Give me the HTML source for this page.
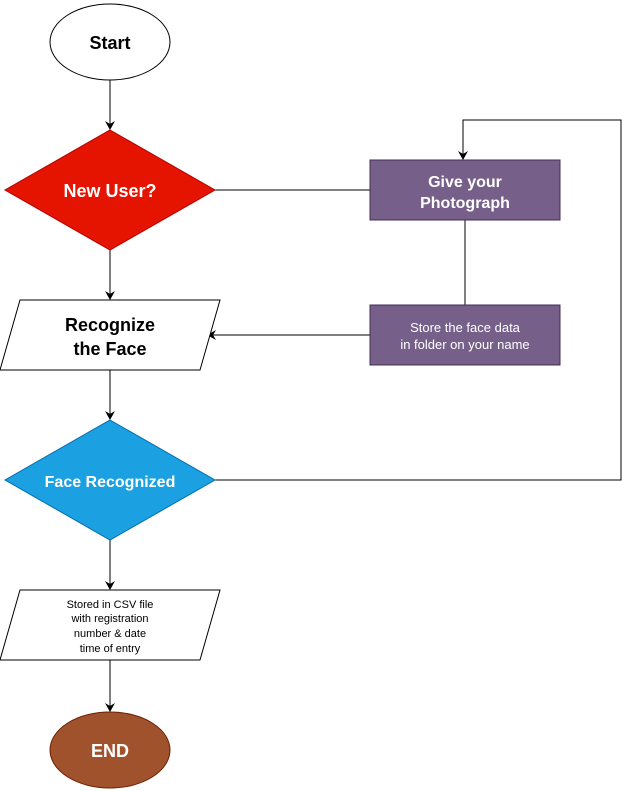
<!DOCTYPE html>
<html><head><meta charset="utf-8"><style>
html,body{margin:0;padding:0;background:#fff;}
svg{display:block;font-family:"Liberation Sans",Arial,sans-serif;}
</style></head><body>
<svg width="622" height="791" viewBox="0 0 622 791" xmlns="http://www.w3.org/2000/svg">
<defs>
<marker id="a" markerWidth="10" markerHeight="10" refX="8" refY="5" orient="auto" markerUnits="userSpaceOnUse">
<path d="M0,0 L9,5 L0,10 L3,5 Z" fill="#000"/>
</marker>
</defs>
<g stroke="#000" stroke-width="1" fill="none">
<line x1="110" y1="80" x2="110" y2="129" marker-end="url(#a)"/>
<line x1="110" y1="250" x2="110" y2="299" marker-end="url(#a)"/>
<line x1="110" y1="370" x2="110" y2="419" marker-end="url(#a)"/>
<line x1="110" y1="540" x2="110" y2="589" marker-end="url(#a)"/>
<line x1="110" y1="660" x2="110" y2="711" marker-end="url(#a)"/>
<line x1="215" y1="190" x2="370" y2="190"/>
<line x1="465" y1="220" x2="465" y2="305"/>
<line x1="370" y1="335" x2="208" y2="335" marker-end="url(#a)"/>
<polyline points="215,480 621,480 621,120 463,120 463,159" marker-end="url(#a)"/>
</g>
<ellipse cx="110" cy="42" rx="60" ry="38" fill="#fff" stroke="#000"/>
<text x="110" y="49" text-anchor="middle" font-size="18" font-weight="bold">Start</text>
<polygon points="110,130 215,190 110,250 5,190" fill="#e51400" stroke="#b20000"/>
<text x="110" y="197" text-anchor="middle" font-size="18" font-weight="bold" fill="#fff">New User?</text>
<rect x="370" y="160" width="190" height="60" fill="#76608a" stroke="#432d57"/>
<text x="465" y="187" text-anchor="middle" font-size="16" font-weight="bold" fill="#fff">Give your</text>
<text x="465" y="208" text-anchor="middle" font-size="16" font-weight="bold" fill="#fff">Photograph</text>
<rect x="370" y="305" width="190" height="60" fill="#76608a" stroke="#432d57"/>
<text x="465" y="332" text-anchor="middle" font-size="13" fill="#fff">Store the face data</text>
<text x="465" y="349" text-anchor="middle" font-size="13" fill="#fff">in folder on your name</text>
<polygon points="20,300 220,300 200,370 0,370" fill="#fff" stroke="#000"/>
<text x="110" y="331" text-anchor="middle" font-size="18" font-weight="bold">Recognize</text>
<text x="110" y="355" text-anchor="middle" font-size="18" font-weight="bold">the Face</text>
<polygon points="110,420 215,480 110,540 5,480" fill="#1ba1e2" stroke="#006eaf"/>
<text x="110" y="487" text-anchor="middle" font-size="16" font-weight="bold" fill="#fff">Face Recognized</text>
<polygon points="20,590 220,590 200,660 0,660" fill="#fff" stroke="#000"/>
<text x="110" y="608" text-anchor="middle" font-size="11">Stored in CSV file</text>
<text x="110" y="622" text-anchor="middle" font-size="11">with registration</text>
<text x="110" y="637" text-anchor="middle" font-size="11">number &amp; date</text>
<text x="110" y="652" text-anchor="middle" font-size="11">time of entry</text>
<ellipse cx="110" cy="750" rx="60" ry="38" fill="#a0522d" stroke="#6d1f00"/>
<text x="110" y="757" text-anchor="middle" font-size="18" font-weight="bold" fill="#fff">END</text>
</svg>
</body></html>
